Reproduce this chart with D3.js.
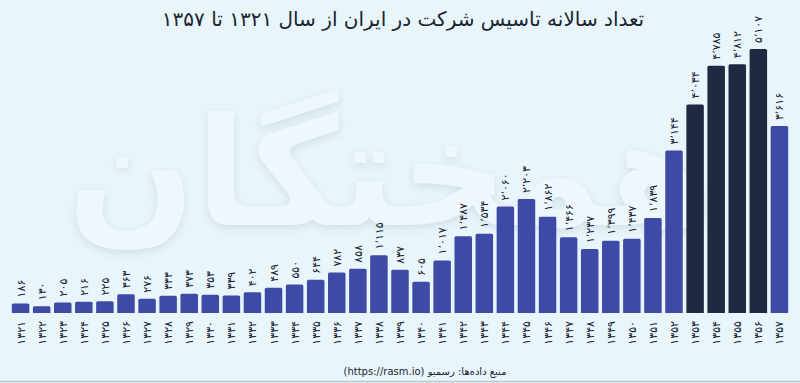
<!DOCTYPE html>
<html><head><meta charset="utf-8">
<script src="https://cdn.jsdelivr.net/npm/d3@7"></script>
<style>
html,body{margin:0;padding:0;background:#e8f5fb;}
svg{display:block;}
text{font-family:"DejaVu Sans",sans-serif;}
</style></head><body>
<svg id="c" width="800" height="383"></svg>
<script>
const years = ["1321","1322","1323","1324","1325","1326","1327","1328","1329","1330","1331","1332","1333","1334","1335","1336","1337","1338","1339","1340","1341","1342","1343","1344","1345","1346","1347","1348","1349","1350","1351","1352","1353","1354","1355","1356","1357"];
const values = [186,130,205,216,225,363,276,333,373,353,339,402,489,550,644,782,858,1115,837,605,1017,1487,1534,2060,2203,1862,1466,1237,1399,1437,1839,3144,4034,4785,4812,5107,3616];
const highlighted = ["1353","1354","1355","1356"];
const titleText = "تعداد سالانه تاسیس شرکت در ایران از سال ۱۳۲۱ تا ۱۳۵۷";
const sourceText = "منبع داده‌ها: رسمیو (https://rasm.io)";
const watermarkText = "همختگان";

const fa = s => String(s).replace(/\d/g, d => "۰۱۲۳۴۵۶۷۸۹"[d]);
const fmt = v => fa(d3.format(",")(v)).replace(/,/g, "٬");

const svg = d3.select("#c");
svg.append("rect").attr("width",800).attr("height",383).attr("fill","#e8f5fb");
svg.append("line").attr("x1",0).attr("x2",800).attr("y1",381.5).attr("y2",381.5).attr("stroke","#b8c6cf").attr("stroke-width",1.5);

// watermark
const defs = svg.append("defs");
const f = defs.append("filter").attr("id","sh").attr("x","-10%").attr("y","-10%").attr("width","120%").attr("height","130%");
f.append("feDropShadow").attr("dx",0).attr("dy",3).attr("stdDeviation",4).attr("flood-color","#9fb3c0").attr("flood-opacity",0.35);
svg.append("text").attr("x",390).attr("y",225).attr("text-anchor","middle")
  .attr("font-size",150).attr("font-weight","bold").attr("fill","#eef8fc")
  .attr("filter","url(#sh)").attr("direction","rtl").text(watermarkText);

const x = d3.scaleBand().domain(years).range([11,789]).paddingInner(0.17).paddingOuter(0.04);
const y = d3.scaleLinear().domain([0,5107]).range([313,49]);

const g = svg.append("g");
g.selectAll("path.bar").data(years).join("path").attr("class","bar")
  .attr("d",(d,i)=>{
    const x0=x(d), w=x.bandwidth(), y0=y(values[i]), b=y(0), r=1.5;
    return `M${x0},${b}V${y0+r}Q${x0},${y0} ${x0+r},${y0}H${x0+w-r}Q${x0+w},${y0} ${x0+w},${y0+r}V${b}Z`;
  })
  .attr("fill",d=>highlighted.includes(d)?"#1e2a42":"#3d4ba6");

g.selectAll("text.val").data(years).join("text").attr("class","val")
  .attr("transform",(d,i)=>`translate(${x(d)+x.bandwidth()/2+4},${y(values[i])-6}) rotate(-90)`)
  .attr("text-anchor","start").attr("font-size",11).attr("fill","#1b2433")
  .text((d,i)=>fmt(values[i]));

g.selectAll("text.yr").data(years).join("text").attr("class","yr")
  .attr("transform",d=>`translate(${x(d)+x.bandwidth()/2+4},${321}) rotate(-90)`)
  .attr("text-anchor","end").attr("font-size",11).attr("fill","#1b2433")
  .text(d=>fa(d));

svg.append("text").attr("x",403).attr("y",26).attr("text-anchor","middle")
  .attr("font-size",20).attr("fill","#1b2433").attr("direction","rtl").text(titleText);
svg.append("text").attr("x",425).attr("y",375).attr("text-anchor","middle")
  .attr("font-size",10).attr("fill","#1b2433").attr("direction","rtl")
  .style("unicode-bidi","embed").text(sourceText);
</script></body></html>
